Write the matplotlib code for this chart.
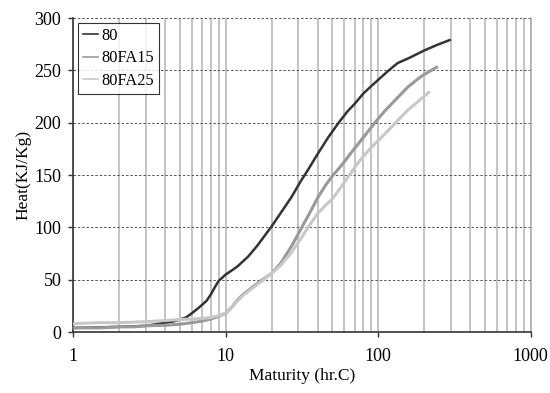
import matplotlib
matplotlib.use("Agg")
import matplotlib.pyplot as plt
from matplotlib.ticker import LogLocator, NullFormatter, FixedLocator

FONT = "Liberation Serif"
TICK_SIZE = 13
LABEL_SIZE = 12.5
LEGEND_SIZE = 11.8

# Series "80"
x_80 = [1, 1.5, 2, 2.5, 3, 3.5, 4, 4.5, 5, 5.5, 6, 6.5, 7, 7.5, 8, 8.5, 9, 9.5,
        10, 11, 12, 14, 16, 18, 20, 23, 27, 31, 35, 40, 47, 55, 63, 70, 80, 90,
        100, 115, 134, 160, 200, 240, 294]
y_80 = [4, 4.5, 5, 5.5, 6, 7.5, 9, 10, 12, 14, 18, 22, 26, 30, 36, 43, 49, 52,
        55, 59, 63, 72, 82, 92, 101, 114, 129, 144, 156, 170, 186, 200, 211, 218,
        228, 235, 241, 249, 257, 262, 269, 274, 279]

# Series "80FA15"
x_fa15 = [1, 1.5, 2, 2.5, 3, 4, 5, 6, 7, 8, 9, 10, 11, 12, 13, 15, 17, 20, 23,
          27, 31, 35, 40, 45, 50, 58, 67, 80, 95, 110, 130, 156, 190, 241]
y_fa15 = [4, 4, 5, 5, 6, 6.5, 7.5, 9, 10.5, 12.5, 15, 18, 24, 31, 36, 43, 49, 56,
          66, 82, 98, 112, 128, 140, 149, 160, 172, 186, 200, 211, 222, 234, 244, 253]

# Series "80FA25"
x_fa25 = [1, 1.5, 2, 2.5, 3, 4, 5, 6, 7, 8, 9, 10, 11, 12, 13, 15, 17, 20, 23,
          27, 31, 35, 40, 45, 50, 58, 73, 88, 105, 130, 156, 185, 214]
y_fa25 = [8, 9, 9, 9.5, 10, 11, 12, 12.5, 13, 14, 15.5, 18, 24, 30, 35, 42, 48,
          56, 64, 76, 89, 101, 113, 121, 127, 140, 161, 175, 186, 200, 212, 221, 229]

y_ticks = [0, 50, 100, 150, 200, 250, 300]
x_ticks = [1, 10, 100, 1000]

plt.rcParams["font.family"] = [FONT, "DejaVu Serif"]

fig = plt.figure(figsize=(5.5, 3.93), dpi=100)
ax = fig.add_axes([0.133, 0.155, 0.832, 0.799])

ax.plot(x_80, y_80, color="#333333", lw=1.8, label="80", zorder=3)
ax.plot(x_fa15, y_fa15, color="#999999", lw=2.2, label="80FA15", zorder=3)
ax.plot(x_fa25, y_fa25, color="#c8c8c8", lw=2.2, label="80FA25", zorder=3)

ax.set_xscale("log")
ax.set_xlim(1, 1000)
ax.set_ylim(0, 300)
ax.xaxis.set_major_locator(FixedLocator(x_ticks))
ax.xaxis.set_minor_locator(LogLocator(base=10, subs=range(2, 10)))
ax.xaxis.set_minor_formatter(NullFormatter())
ax.set_xticklabels([str(t) for t in x_ticks])
ax.set_yticks(y_ticks)

ax.grid(True, axis="x", which="both", color="#b4b4b4", lw=1.1, ls="-", zorder=1)
ax.grid(True, axis="y", which="major", color="#555555", lw=0.7, ls=(0, (2.5, 2)), zorder=1)

ax.tick_params(axis="both", which="major", direction="out", length=3.5,
               width=1, color="#333333", labelsize=TICK_SIZE)
ax.tick_params(axis="x", which="major", pad=8)
ax.tick_params(axis="y", which="major", pad=5)
ax.tick_params(axis="x", which="minor", length=0)

ax.spines["top"].set_visible(False)
ax.spines["right"].set_color("#aaaaaa")
ax.spines["right"].set_linewidth(1.1)
ax.spines["left"].set_color("#333333")
ax.spines["bottom"].set_color("#333333")
ax.spines["left"].set_linewidth(1.2)
ax.spines["bottom"].set_linewidth(1.2)

ax.set_xlabel("Maturity (hr.C)", fontsize=LABEL_SIZE, labelpad=2)
ax.set_ylabel("Heat(KJ/Kg)", fontsize=LABEL_SIZE, labelpad=2)

leg = ax.legend(loc="upper left", fontsize=LEGEND_SIZE, frameon=True, fancybox=False,
                edgecolor="black", handlelength=0.9, handletextpad=0.2,
                borderaxespad=0.3, borderpad=0.3, labelspacing=0.4)
leg.get_frame().set_linewidth(0.8)
for line in leg.get_lines():
    line.set_linewidth(1.2)

fig.savefig("out.png", dpi=100)
